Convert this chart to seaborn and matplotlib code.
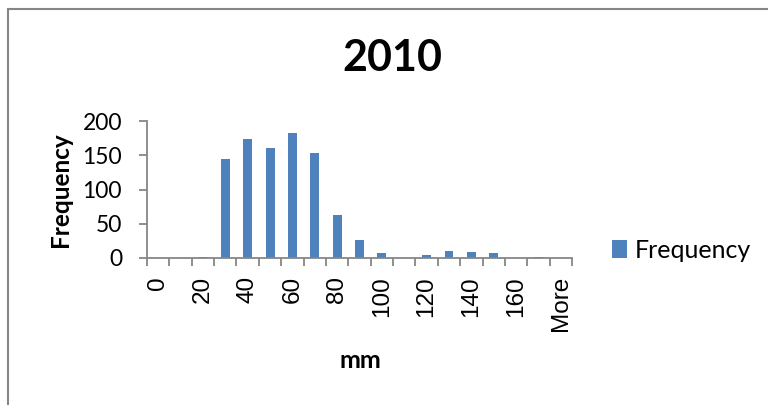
import matplotlib
matplotlib.use("Agg")
import matplotlib.pyplot as plt
import seaborn as sns
import numpy as np
import pandas as pd
from matplotlib.lines import Line2D

bins = ["0", "10", "20", "30", "40", "50", "60", "70", "80", "90", "100",
        "110", "120", "130", "140", "150", "160", "170", "More"]
frequency = [0, 0, 2, 145, 173, 160, 183, 153, 63, 27, 8, 0, 4, 10, 9, 7, 0, 1, 0]
yticks = [0, 50, 100, 150, 200]

sns.set_theme(style="white")
plt.rcParams['font.family'] = ['Lato', 'DejaVu Sans']
plt.rcParams['text.color'] = 'black'
plt.rcParams['xtick.color'] = 'black'
plt.rcParams['ytick.color'] = 'black'

W, H = 768, 405
fig = plt.figure(figsize=(W / 100, H / 100), dpi=100)
x0, x1, yb, yt = 147, 572, 258, 121
ax = fig.add_axes([x0 / W, 1 - yb / H, (x1 - x0) / W, (yb - yt) / H])

df = pd.DataFrame({"bin": bins, "Frequency": frequency})
sns.barplot(data=df, x="bin", y="Frequency", order=bins, color="#4F81BD",
            width=0.4, saturation=1, ax=ax, label="Frequency", edgecolor="none")

gray = "#868686"
ax.set_xlim(-0.5, len(bins) - 0.5)
ax.set_ylim(0, 200)
for s in ["top", "right"]:
    ax.spines[s].set_visible(False)
for s in ["left", "bottom"]:
    ax.spines[s].set_color(gray)
    ax.spines[s].set_linewidth(1.3)

ax.set_yticks(yticks)
ax.set_yticklabels([str(v) for v in yticks], fontsize=16.5)
ax.tick_params(axis="y", direction="out", length=6, width=1.3, color=gray,
               left=True, pad=12, labelcolor="black")

ax.set_xticks(range(len(bins)))
ax.set_xticklabels([b if i % 2 == 0 else "" for i, b in enumerate(bins)], rotation=90)
for lbl in ax.get_xticklabels():
    lbl.set_fontfamily(["Liberation Sans", "DejaVu Sans"])
    lbl.set_fontsize(17.5)
    lbl.set_color("black")
ax.tick_params(axis="x", which="major", length=0, pad=13)
ax.set_xticks(np.arange(-0.5, len(bins), 1.0), minor=True)
ax.tick_params(axis="x", which="minor", direction="out", length=6, width=1.3,
               color=gray, bottom=True)

ax.set_xlabel("")
ax.set_ylabel("")
fig.text(360 / W, 1 - 360 / H, "mm", ha="center", va="center",
         fontsize=18, fontweight="bold", color="black")
fig.text(60 / W, 1 - 190 / H, "Frequency", ha="center", va="center",
         rotation=90, fontsize=17.5, fontweight="bold", color="black")
fig.text(392 / W, 1 - 58 / H, "2010", ha="center", va="center",
         fontsize=31, fontweight="bold", color="black")

leg = ax.legend(loc="center left", bbox_to_anchor=(612 / W, 1 - 250 / H),
                bbox_transform=fig.transFigure, frameon=False, fontsize=18,
                handlelength=0.6, handleheight=0.75, handletextpad=0.3,
                borderpad=0, borderaxespad=0)
for t in leg.get_texts():
    t.set_color("black")

fig.add_artist(Line2D([7.5 / W, 7.5 / W], [0, 1 - 8.5 / H], color=gray,
                      linewidth=1.5, transform=fig.transFigure))
fig.add_artist(Line2D([7.5 / W, 1], [1 - 8.5 / H, 1 - 8.5 / H], color=gray,
                      linewidth=1.5, transform=fig.transFigure))

fig.savefig("out.png", dpi=100, facecolor="white")
